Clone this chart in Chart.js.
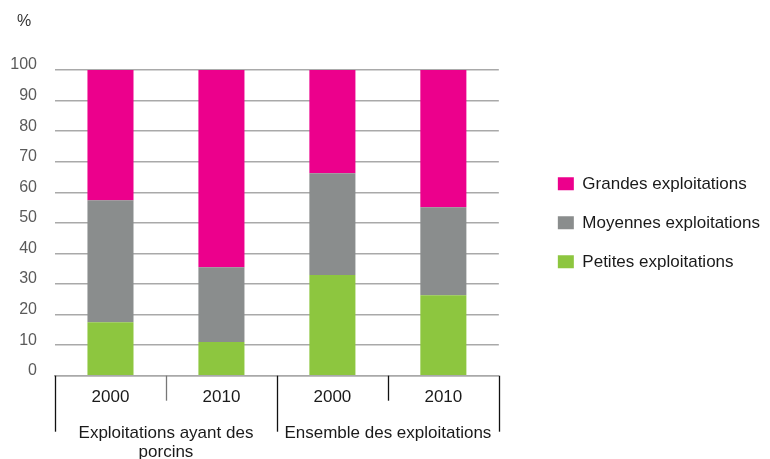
<!DOCTYPE html>
<html>
<head>
<meta charset="utf-8">
<script src="https://cdn.jsdelivr.net/npm/chart.js@4"></script>
<style>
  html, body { margin: 0; padding: 0; background: #fff; }
  #wrap { width: 770px; height: 459px; }
</style>
</head>
<body>
<div id="wrap"><canvas id="bar_chart"></canvas></div>
<script>
const years = ['2000', '2010', '2000', '2010'];
const groups = [['Exploitations ayant des', 'porcins'], 'Ensemble des exploitations'];
const yTicks = [0, 10, 20, 30, 40, 50, 60, 70, 80, 90, 100];

const petites = [17.5, 11.0, 32.9, 26.3];
const moyennes = [39.9, 24.5, 33.3, 28.8];
const grandes = [42.6, 64.5, 33.8, 44.9];

const FONT = 'Arial, "Liberation Sans", sans-serif';

// vertical separators under the x axis (short between years, long between groups)
const separators = {
  id: 'separators',
  afterDraw(chart) {
    const xs = chart.scales.x;
    const c = chart.ctx;
    const n = years.length;
    const w = (xs.right - xs.left) / n;
    c.save();
    c.lineWidth = 1.3;
    for (let i = 0; i <= n; i++) {
      const xp = Math.round(xs.left + i * w) + 0.5;
      const end = i % 2 === 0 ? xs.top + 56 : xs.top + 25;
      c.strokeStyle = i === 1 ? '#777' : '#111';
      c.beginPath();
      c.moveTo(xp, xs.top);
      c.lineTo(xp, end);
      c.stroke();
    }
    c.restore();
  }
};

// unit label above the y axis
const unitLabel = {
  id: 'unitLabel',
  afterDraw(chart) {
    const c = chart.ctx;
    c.save();
    c.font = '16px ' + FONT;
    c.fillStyle = '#333';
    c.textAlign = 'left';
    c.textBaseline = 'middle';
    c.fillText('%', chart.scales.y.left + 17, 22);
    c.restore();
  }
};

const ctx = document.getElementById('bar_chart').getContext('2d');

new Chart(ctx, {
  type: 'bar',
  data: {
    labels: years,
    datasets: [
      { label: 'Petites exploitations', data: petites, backgroundColor: '#8DC63F' },
      { label: 'Moyennes exploitations', data: moyennes, backgroundColor: '#8A8D8D' },
      { label: 'Grandes exploitations', data: grandes, backgroundColor: '#EC008C' }
    ]
  },
  options: {
    responsive: true,
    maintainAspectRatio: false,
    animation: false,
    layout: { padding: { left: 0, right: 0, bottom: 0, top: 70 } },
    datasets: { bar: { barPercentage: 0.415, categoryPercentage: 1 } },
    scales: {
      x: {
        stacked: true,
        grid: { display: false },
        border: { display: true, color: '#a9a9a9', width: 1.5 },
        ticks: { padding: 3, color: '#1a1a1a', font: { family: FONT, size: 17 } },
        afterFit(s) { s.height = 30; }
      },
      x2: {
        type: 'category',
        labels: groups,
        position: 'bottom',
        grid: { display: false },
        border: { display: false },
        ticks: { padding: 10, color: '#1a1a1a', font: { family: FONT, size: 17, lineHeight: 1.12 } },
        afterFit(s) { s.height = 53.3; }
      },
      y: {
        stacked: true,
        min: 0,
        max: 100,
        afterBuildTicks(s) { s.ticks = yTicks.map(v => ({ value: v })); },
        grid: { color: '#a9a9a9', lineWidth: 1.5, drawTicks: false },
        border: { display: false },
        ticks: { padding: 18, labelOffset: -5, color: '#5a5a5a', font: { family: FONT, size: 16 } },
        afterFit(s) { s.width = 55; }
      },
      yRight: {
        type: 'linear',
        position: 'right',
        display: true,
        grid: { display: false },
        border: { display: false },
        ticks: { display: false },
        afterFit(s) { s.width = 37; }
      }
    },
    plugins: {
      legend: {
        position: 'right',
        fullSize: false,
        reverse: true,
        maxWidth: 300,
        labels: {
          boxWidth: 16,
          boxHeight: 13,
          padding: 22,
          color: '#1a1a1a',
          font: { family: FONT, size: 17 }
        }
      },
      tooltip: { enabled: false }
    }
  },
  plugins: [separators, unitLabel]
});
</script>
</body>
</html>
